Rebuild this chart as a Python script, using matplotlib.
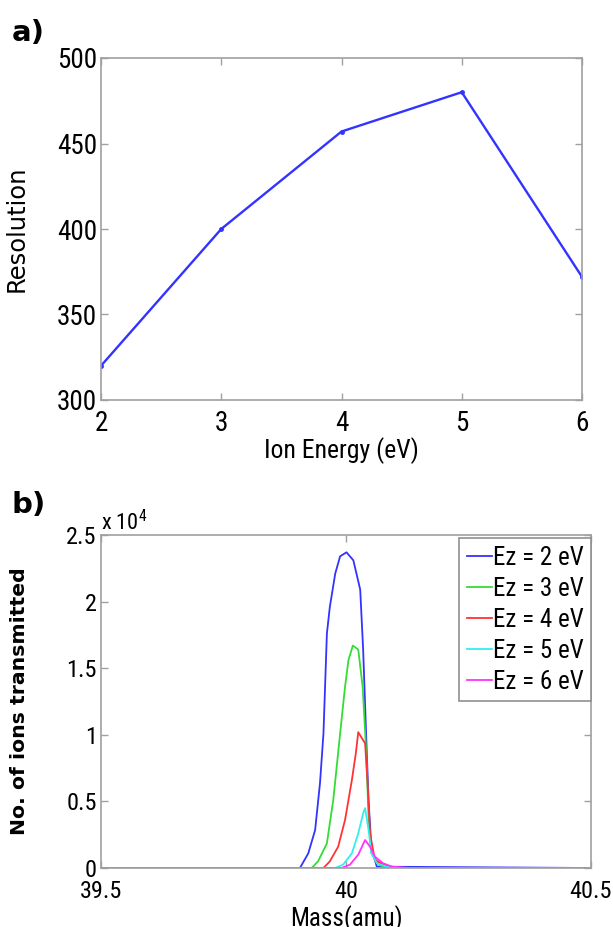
import numpy as np
import matplotlib
matplotlib.use('Agg')
import matplotlib.pyplot as plt
from matplotlib.ticker import FuncFormatter

# panel a data
energy = [2, 3, 4, 5, 6]
resolution = [320, 400, 457, 480, 372]

# panel b data (mass in amu, ions transmitted)
mass_2ev = [39.5, 39.906, 39.923, 39.937, 39.947, 39.954, 39.961, 39.967, 39.978, 39.988,
            40.001, 40.015, 40.029, 40.035, 40.041, 40.046, 40.052, 40.063, 40.5]
ions_2ev = [0, 0, 1100, 2850, 6400, 10100, 17600, 19600, 22100, 23400,
            23700, 23100, 20900, 16400, 10100, 5100, 1400, 100, 0]

mass_3ev = [39.5, 39.930, 39.943, 39.961, 39.974, 39.988, 39.998, 40.005, 40.014, 40.025,
            40.034, 40.041, 40.046, 40.052, 40.069, 40.09, 40.5]
ions_3ev = [0, 0, 500, 1850, 5100, 10100, 13600, 15600, 16700, 16400,
            13600, 8900, 3850, 1100, 200, 0, 0]

mass_4ev = [39.5, 39.954, 39.967, 39.984, 39.998, 40.012, 40.020, 40.025, 40.039, 40.044,
            40.049, 40.059, 40.083, 40.11, 40.5]
ions_4ev = [0, 0, 500, 1600, 3600, 6600, 8600, 10200, 9350, 6400,
            2600, 600, 150, 0, 0]

mass_5ev = [39.5, 39.978, 39.994, 40.012, 40.025, 40.035, 40.039, 40.046, 40.052, 40.063,
            40.083, 40.11, 40.5]
ions_5ev = [0, 0, 250, 1100, 2600, 4100, 4500, 2850, 1100, 350, 100, 0, 0]

mass_6ev = [39.5, 39.991, 40.008, 40.025, 40.039, 40.049, 40.059, 40.076, 40.094, 40.13, 40.5]
ions_6ev = [0, 0, 250, 1000, 2100, 1600, 850, 350, 100, 0, 0]

series = [(mass_2ev, ions_2ev, '#3333ff', 'Ez = 2 eV'),
          (mass_3ev, ions_3ev, '#33dd33', 'Ez = 3 eV'),
          (mass_4ev, ions_4ev, '#ff3333', 'Ez = 4 eV'),
          (mass_5ev, ions_5ev, '#33eeee', 'Ez = 5 eV'),
          (mass_6ev, ions_6ev, '#ff33ff', 'Ez = 6 eV')]

plt.rcParams['font.family'] = ['Roboto Condensed', 'DejaVu Sans']
spine_col = '#a0a0a0'

W, H = 613, 927
fig = plt.figure(figsize=(W / 100, H / 100), dpi=100)


def style_axes(ax, size):
    for s in ax.spines.values():
        s.set_color(spine_col)
        s.set_linewidth(1.2)
    ax.tick_params(direction='in', length=5, width=1, color=spine_col,
                   top=True, right=True, labelsize=size, labelcolor='black')


# ---- panel a ----
ax1 = fig.add_axes([101 / W, 1 - 400 / H, 481 / W, 342 / H])
ax1.plot(energy, resolution, color='#3333ff', lw=1.7, marker='.', ms=5)
ax1.set_xlim(2, 6)
ax1.set_ylim(300, 500)
ax1.set_xticks([2, 3, 4, 5, 6])
ax1.set_yticks(np.arange(300, 501, 50))
style_axes(ax1, 19.5)
ax1.tick_params(axis='x', pad=7)
ax1.tick_params(axis='y', pad=3)
ax1.set_xlabel('Ion Energy (eV)', fontsize=18.5)
ax1.xaxis.set_label_coords(0.5, -37 / 342)
ax1.set_ylabel('Resolution', fontsize=17.5, family='DejaVu Sans')
ax1.yaxis.set_label_coords(-72 / 481, 0.5)

# ---- panel b ----
ax2 = fig.add_axes([101 / W, 1 - 868 / H, 490 / W, 333 / H])
for m, v, c, lab in series:
    ax2.plot(m, v, color=c, lw=1.3, label=lab)
ax2.set_xlim(39.5, 40.5)
ax2.set_ylim(0, 25000)
ax2.set_xticks([39.5, 40, 40.5])
ax2.set_yticks(np.arange(0, 25001, 5000))
ax2.yaxis.set_major_formatter(FuncFormatter(lambda v, p: '%g' % (v / 1e4)))
ax2.xaxis.set_major_formatter(FuncFormatter(lambda v, p: '%g' % v))
style_axes(ax2, 17.5)
ax2.tick_params(axis='x', pad=9)
ax2.tick_params(axis='y', pad=3)
ax2.text(0.0, 1.015, r'x 10$^{\mathregular{4}}$', transform=ax2.transAxes,
         fontsize=16, ha='left', va='baseline')
ax2.set_xlabel('Mass(amu)', fontsize=18)
ax2.xaxis.set_label_coords(0.5, -37 / 333)
ax2.set_ylabel('No. of ions transmitted', fontsize=14.7, family='DejaVu Sans',
               fontweight='bold')
ax2.yaxis.set_label_coords(-72 / 490, 0.5)

leg = ax2.legend(loc='upper right', bbox_to_anchor=(1.0, 0.99), fontsize=18,
                 handlelength=1.0, handletextpad=0.05, labelspacing=0.28,
                 borderpad=0.3, borderaxespad=0, fancybox=False, framealpha=1)
leg.get_frame().set_edgecolor('#909090')
leg.get_frame().set_linewidth(1.2)

# panel letters
fig.text(12 / W, 1 - 33 / H, 'a)', fontsize=21, fontweight='bold',
         family='DejaVu Sans', va='center', ha='left')
fig.text(12 / W, 1 - 505 / H, 'b)', fontsize=21, fontweight='bold',
         family='DejaVu Sans', va='center', ha='left')

fig.savefig('out.png', dpi=100)
